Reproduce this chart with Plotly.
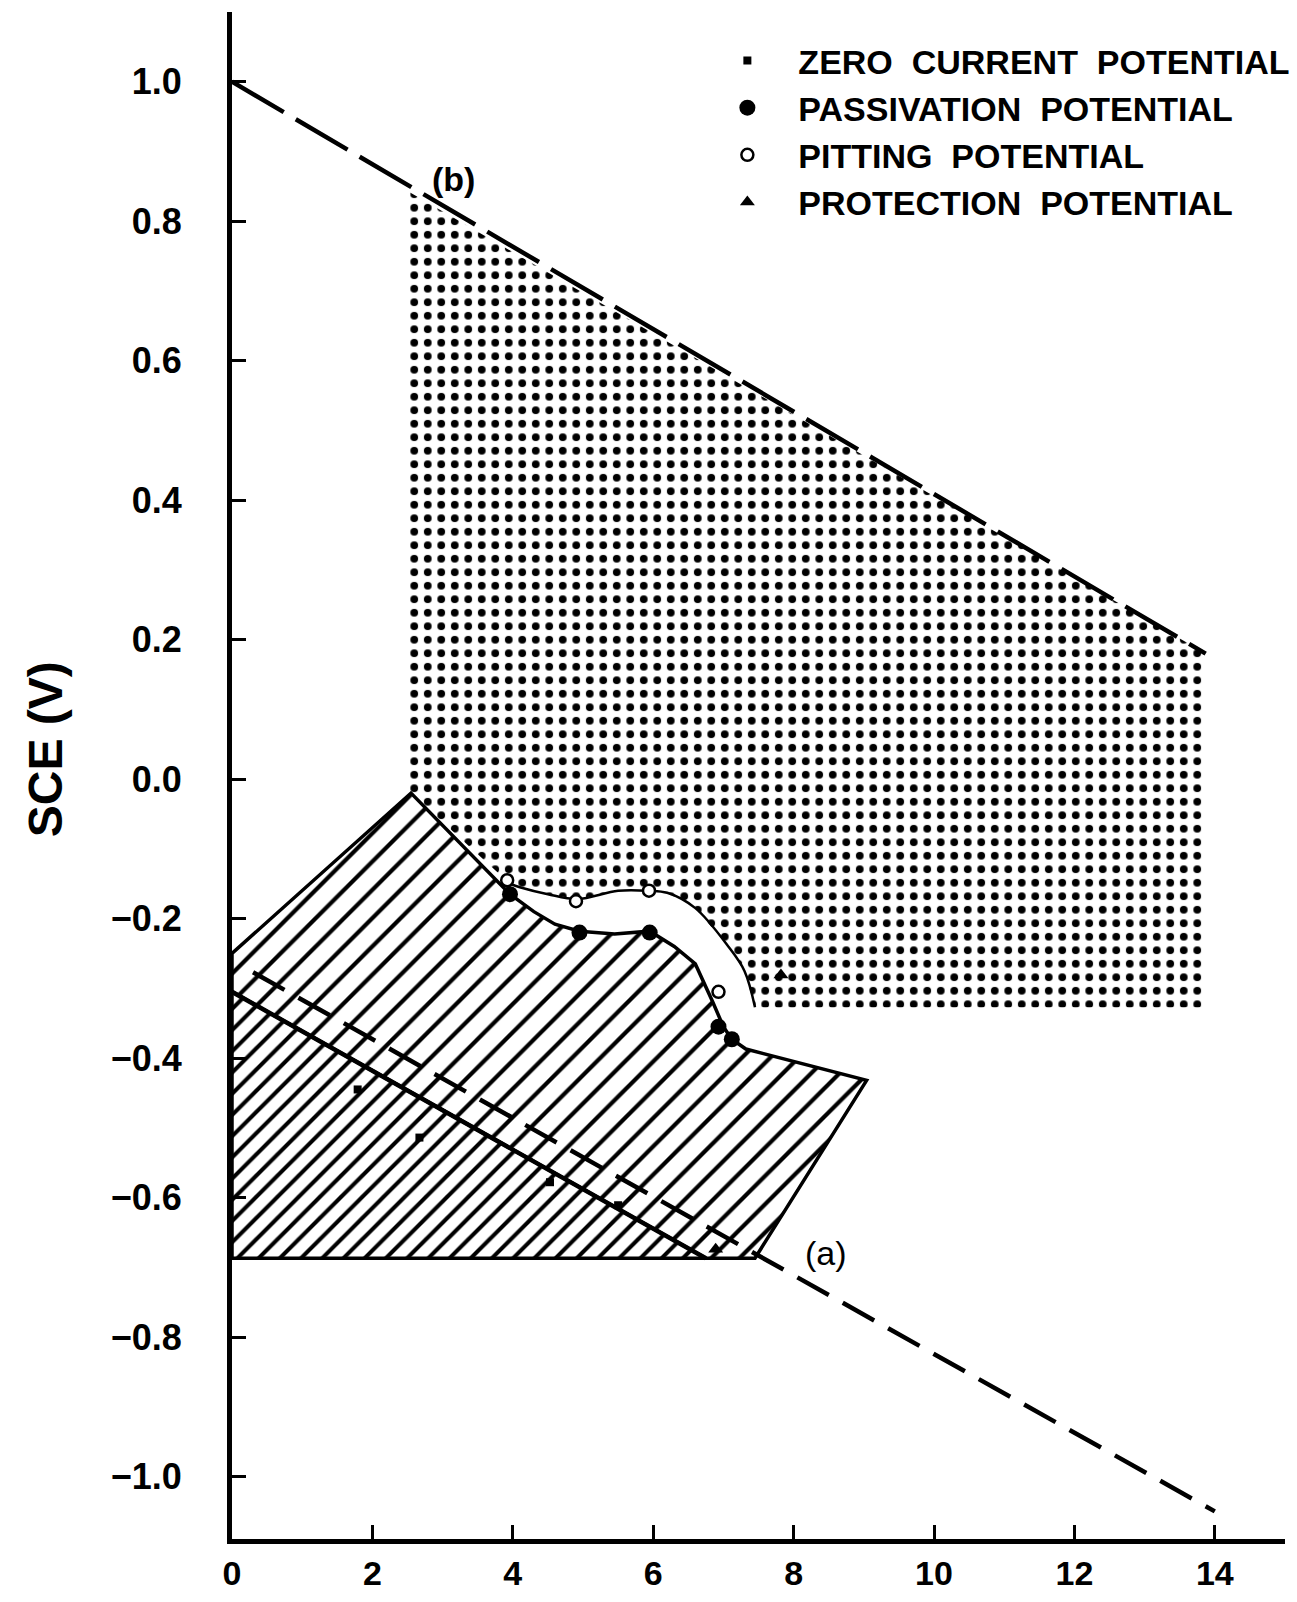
import plotly.graph_objects as go

# ---------------- data (pH, E vs SCE in V) ----------------
# line (b): oxygen line
line_b_ph = [0.0, 13.87]
line_b_e = [1.0, 0.18]
# line (a): hydrogen line (dashed)
line_a_ph = [0.3, 14.0]
line_a_e = [-0.277, -1.05]
# solid line inside the hatched region
solid_ph = [0.0, 6.75]
solid_e = [-0.305, -0.687]

# hatched region, upper part
hatch_ph = [0.0, 2.55, 3.96, 4.3, 4.6, 4.95, 5.45, 5.95, 6.3, 6.6, 6.85, 7.0, 7.12, 7.32,
            9.04, 7.45, 6.75, 0.0, 0.0]
hatch_e = [-0.25, -0.02, -0.165, -0.19, -0.208, -0.218, -0.222, -0.218, -0.24, -0.265,
           -0.32, -0.355, -0.373, -0.387, -0.432, -0.687, -0.687, -0.305, -0.25]
# hatched region, lower denser part
hatch2_ph = [0.0, 6.75, 0.0, 0.0]
hatch2_e = [-0.305, -0.687, -0.687, -0.305]

# dotted region (pitting)
dot_ph = [2.47, 13.87, 13.87, 7.45, 7.3, 7.07, 6.6, 6.2, 5.93, 5.5, 4.92, 4.5, 4.1, 3.96,
          2.55, 2.47, 2.47]
dot_e = [0.845, 0.18, -0.327, -0.327, -0.275, -0.24, -0.185, -0.163, -0.16, -0.16, -0.172,
         -0.165, -0.155, -0.15, -0.02, 0.0, 0.845]
# pitting curve (upper edge of white band)
pit_curve_ph = [3.96, 4.1, 4.5, 4.92, 5.5, 5.93, 6.2, 6.6, 7.07, 7.3, 7.45]
pit_curve_e = [-0.15, -0.155, -0.165, -0.172, -0.16, -0.16, -0.163, -0.185, -0.24, -0.275, -0.327]

# measured points
zero_ph = [1.79, 2.67, 4.53, 5.5]
zero_e = [-0.445, -0.514, -0.578, -0.611]
pass_ph = [3.96, 4.95, 5.95, 6.93, 7.12]
pass_e = [-0.165, -0.22, -0.22, -0.355, -0.373]
pitt_ph = [3.92, 4.9, 5.94, 6.93]
pitt_e = [-0.145, -0.175, -0.16, -0.305]
prot_ph = [7.82, 6.89]
prot_e = [-0.281, -0.674]

x_ticks = [0, 2, 4, 6, 8, 10, 12, 14]
x_tick_labels = ["0", "2", "4", "6", "8", "10", "12", "14"]
y_ticks = [1.0, 0.8, 0.6, 0.4, 0.2, 0.0, -0.2, -0.4, -0.6, -0.8, -1.0]
y_tick_labels = ["1.0", "0.8", "0.6", "0.4", "0.2", "0.0", "−0.2", "−0.4", "−0.6", "−0.8", "−1.0"]

FONT = "Liberation Sans, Arial, Helvetica, sans-serif"

fig = go.Figure()

# dotted region
fig.add_trace(go.Scatter(
    x=dot_ph, y=dot_e, mode="lines", fill="toself", fillcolor="white",
    line=dict(width=0, color="black"),
    fillpattern=dict(shape=".", size=13.5, solidity=0.26, fgcolor="black", bgcolor="white",
                     fgopacity=1),
    showlegend=False, hoverinfo="skip"))

# hatched regions
fig.add_trace(go.Scatter(
    x=hatch_ph, y=hatch_e, mode="lines", fill="toself", fillcolor="white",
    line=dict(width=3.5, color="black"),
    fillpattern=dict(shape="/", size=20, solidity=0.21, fgcolor="black", bgcolor="white",
                     fgopacity=1),
    showlegend=False, hoverinfo="skip"))
fig.add_trace(go.Scatter(
    x=hatch2_ph, y=hatch2_e, mode="lines", fill="toself", fillcolor="white",
    line=dict(width=3.5, color="black"),
    fillpattern=dict(shape="/", size=15, solidity=0.27, fgcolor="black", bgcolor="white",
                     fgopacity=1),
    showlegend=False, hoverinfo="skip"))

# pitting curve
fig.add_trace(go.Scatter(
    x=pit_curve_ph, y=pit_curve_e, mode="lines", line=dict(width=2.5, color="black", shape="spline"),
    showlegend=False, hoverinfo="skip"))

# lines
fig.add_trace(go.Scatter(
    x=line_b_ph, y=line_b_e, mode="lines", line=dict(width=4.5, color="black", dash="60px,14px"),
    showlegend=False, hoverinfo="skip"))
fig.add_trace(go.Scatter(
    x=line_a_ph, y=line_a_e, mode="lines", line=dict(width=4.5, color="black", dash="36px,16px"),
    showlegend=False, hoverinfo="skip"))
fig.add_trace(go.Scatter(
    x=solid_ph, y=solid_e, mode="lines", line=dict(width=4.5, color="black"),
    showlegend=False, hoverinfo="skip"))

# point series (legend)
fig.add_trace(go.Scatter(
    x=zero_ph, y=zero_e, mode="markers", name="ZERO  CURRENT  POTENTIAL", legendgroup="g1",
    marker=dict(symbol="square", size=8, color="black")))
fig.add_trace(go.Scatter(
    x=pass_ph, y=pass_e, mode="markers", name="PASSIVATION  POTENTIAL", legendgroup="g2",
    marker=dict(symbol="circle", size=16, color="black")))
fig.add_trace(go.Scatter(
    x=pitt_ph, y=pitt_e, mode="markers", name="PITTING  POTENTIAL", legendgroup="g3",
    marker=dict(symbol="circle", size=12, color="white", line=dict(width=2.5, color="black"))))
fig.add_trace(go.Scatter(
    x=prot_ph, y=prot_e, mode="markers", name="PROTECTION  POTENTIAL", legendgroup="g4",
    marker=dict(symbol="triangle-up", size=13, color="black")))

fig.add_annotation(x=3.15, y=0.86, text="<b>(b)</b>", showarrow=False,
                   font=dict(family=FONT, size=34, color="black"))
fig.add_annotation(x=8.46, y=-0.679, text="(a)", showarrow=False,
                   font=dict(family=FONT, size=34, color="black"))
fig.add_annotation(xref="paper", yref="paper", x=-0.177, y=0.517, text="<b>SCE (V)</b>",
                   textangle=-90, showarrow=False, xanchor="center", yanchor="middle",
                   font=dict(family=FONT, size=48, color="black"))

# the page body has an 8px margin: the figure is kept inside the window
fig.update_layout(
    width=1281, height=1586,
    margin=dict(l=224, r=4, t=4, b=55, autoexpand=False),
    paper_bgcolor="white", plot_bgcolor="white",
    font=dict(family=FONT, color="black"),
    legend=dict(x=0.441, y=0.987, xanchor="left", yanchor="top",
                font=dict(family=FONT, size=34, color="black", weight="bold"),
                itemwidth=92, tracegroupgap=0, bgcolor="rgba(0,0,0,0)", borderwidth=0),
    xaxis=dict(range=[0, 15], tickvals=x_ticks, ticktext=x_tick_labels,
               ticks="inside", ticklen=14, tickwidth=3, tickcolor="black",
               showline=True, linewidth=5, linecolor="black", automargin=False,
               showgrid=False, zeroline=False, ticklabelstandoff=0,
               tickfont=dict(family=FONT, size=34, color="black", weight="bold")),
    yaxis=dict(range=[-1.0896, 1.100], tickvals=y_ticks, ticktext=y_tick_labels,
               ticks="inside", ticklen=14, tickwidth=3, tickcolor="black",
               showline=True, linewidth=5, linecolor="black", automargin=False,
               showgrid=False, zeroline=False, ticklabelstandoff=38,
               tickfont=dict(family=FONT, size=36, color="black", weight="bold")),
)

fig.write_html("out.html")
